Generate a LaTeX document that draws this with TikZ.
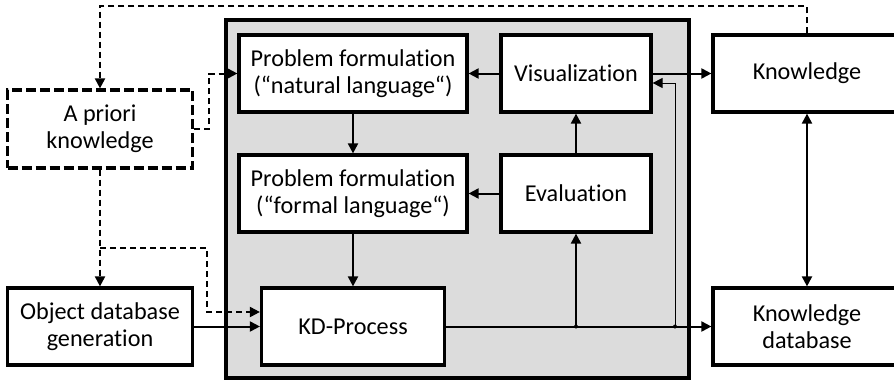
\documentclass[tikz,border=0pt]{standalone}
\usepackage{fontspec}
\setmainfont{Carlito}[Ligatures=NoCommon]
\usetikzlibrary{arrows.meta}
\definecolor{panelgray}{RGB}{220,220,220}
\begin{document}
\begin{tikzpicture}[x=1pt,y=-1pt,
  box/.style={draw,line width=3.2pt,fill=white,inner sep=0pt,align=center,
    font=\fontsize{24.2}{27.5}\selectfont},
  dbox/.style={box,dash pattern=on 10pt off 4pt},
  arr/.style={-{Triangle[length=10pt,width=10pt]},line width=2pt},
  thinarr/.style={-{Triangle[length=10pt,width=10pt]},line width=1pt},
  darr/.style={arr,dash pattern=on 6pt off 4pt},
  dblarr/.style={{Triangle[length=10pt,width=10pt]}-{Triangle[length=10pt,width=10pt]},line width=2pt}]
\useasboundingbox (0,0) rectangle (894,380);
\clip (0,0) rectangle (894,380);

% grey panel holding the discovery loop
\node[draw,line width=3.2pt,fill=panelgray,minimum width=463pt,minimum height=358pt,inner sep=0pt]
  (panel) at (457.5,199) {};

% boxes
\node[dbox,minimum width=185pt,minimum height=78pt] (apriori) at (100,129) {A priori\\knowledge};
\node[box,minimum width=185pt,minimum height=77pt] (obj) at (100,326.5) {Object database\\generation};
\node[box,minimum width=228pt,minimum height=77pt] (nat) at (353,73.5) {Problem formulation\\(“natural language“)};
\node[box,minimum width=228pt,minimum height=77pt] (formal) at (353,193.5) {Problem formulation\\(“formal language“)};
\node[box,minimum width=183pt,minimum height=77pt] (kd) at (353,326.5) {KD-Process};
\node[box,minimum width=150pt,minimum height=77pt] (vis) at (576,73.5) {Visualization};
\node[box,minimum width=150pt,minimum height=77pt] (eval) at (576,193.5) {Evaluation};
\node[box,minimum width=188pt,minimum height=77pt] (know) at (807,73.5) {Knowledge};
\node[box,minimum width=188pt,minimum height=77pt] (kdb) at (807,326.5) {Knowledge\\database};

% helper points for the routed lines
\coordinate (top) at (0,6);
\coordinate (br) at (apriori.south |- 0,248);
\coordinate (j1) at (eval.south |- kd.east);
\coordinate (j2) at (675,0 |- kd.east);

% dashed feedback of a priori knowledge
\draw[darr] (know.north) -- (know.north |- top) -| (apriori.north);
\draw[darr] (apriori.east) -- ++(15,0) |- (nat.west);
\draw[darr] (apriori.south) -- (obj.north);
\draw[darr] (br) -| (207,312) -- (kd.west |- 0,312);

% main flow
\draw[arr] (obj.east) -- (kd.west);
\draw[arr] (nat.south) -- (formal.north);
\draw[arr] (formal.south) -- (kd.north);
\draw[arr] (vis.west) -- (nat.east);
\draw[arr] (eval.west) -- (formal.east);
\draw[arr] (eval.north) -- (vis.south);
\draw[arr] (kd.east) -- (kdb.west);
\draw[arr] (j1) -- (eval.south);
\draw[thinarr] (j2) |- (vis.east |- 0,83);
\draw[arr] (vis.east) -- (know.west);
\draw[dblarr] (know.south) -- (kdb.north);

\fill (j1) circle (2pt);
\fill (j2) circle (2pt);
\end{tikzpicture}
\end{document}
